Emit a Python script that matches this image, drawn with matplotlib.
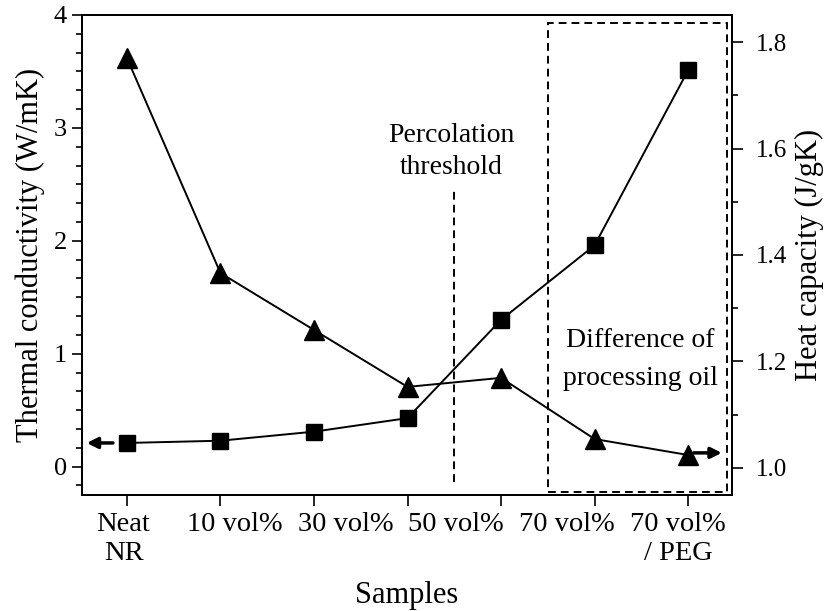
import matplotlib
matplotlib.use("Agg")
import matplotlib.pyplot as plt
import numpy as np
from matplotlib.ticker import MultipleLocator
from matplotlib.patches import Rectangle

plt.rcParams['font.family'] = ['Liberation Serif', 'DejaVu Serif']

# 7 measured samples, but the original figure prints only 6 category labels
sample_labels = ["Neat\nNR", "10 vol%", "30 vol%", "50 vol%", "70 vol%", "70 vol%\n/ PEG"]
thermal_conductivity = [0.21, 0.23, 0.31, 0.43, 1.30, 1.96, 3.51]
heat_capacity = [1.770, 1.366, 1.259, 1.152, 1.169, 1.054, 1.024]

x = np.arange(len(thermal_conductivity))

fig = plt.figure(figsize=(8.27, 6.11), dpi=100)
ax = fig.add_axes([0.0992, 0.190, 0.786, 0.7855])
ax2 = ax.twinx()

ax.plot(x, thermal_conductivity, '-', color='black', lw=1.4, marker='s',
        markersize=12, markerfacecolor='black', markeredgecolor='black', clip_on=False, zorder=3)
ax2.plot(x, heat_capacity, '-', color='black', lw=1.4, marker='^',
         markersize=15, markerfacecolor='black', markeredgecolor='black', clip_on=False, zorder=3)

ax.set_xlim(-0.48, 6.47)
ax.set_ylim(-0.25, 4.0)
ax2.set_ylim(0.949, 1.851)

ax.set_xticks(x)
ax.set_xticklabels([""] * len(x))
# category labels, spread evenly as in the original figure
label_pos = np.linspace(-0.037, 5.893, len(sample_labels))
for xp, lab in zip(label_pos, sample_labels):
    ax.text(xp, -0.036, lab, transform=ax.get_xaxis_transform(), ha='center', va='top',
            fontsize=20.5, linespacing=1.2, multialignment='center')

ax.yaxis.set_major_locator(MultipleLocator(1))
ax.yaxis.set_minor_locator(MultipleLocator(1/6))
ax2.yaxis.set_major_locator(MultipleLocator(0.2))
ax2.yaxis.set_minor_locator(MultipleLocator(0.1))
ax2.yaxis.set_major_formatter(plt.FuncFormatter(lambda v, p: f"{v:.1f}"))

ax.tick_params(axis='x', which='major', direction='out', length=8, width=1.2, pad=4, top=False)
ax.tick_params(axis='y', which='major', direction='out', length=7, width=1.2, labelsize=19, pad=4)
ax.tick_params(axis='y', which='minor', direction='out', length=4, width=1.2)
ax2.tick_params(axis='y', which='major', direction='out', length=8, width=1.2, labelsize=18, pad=9)
ax2.tick_params(axis='y', which='minor', direction='out', length=4, width=1.2)

for a in (ax, ax2):
    for s in a.spines.values():
        s.set_linewidth(1.4)

ax.set_ylabel("Thermal conductivity (W/mK)", fontsize=22, labelpad=6)
ax2.set_ylabel("Heat capacity (J/gK)", fontsize=22, labelpad=6)
ax.set_xlabel("Samples", fontsize=22, labelpad=50)

# percolation threshold line
ax.plot([3.5, 3.5], [-0.14, 2.46], color='black', lw=1.4, linestyle=(0, (4, 2.6)), zorder=2)
ax.text(3.47, 2.876, "Percolation", fontsize=20, ha='center', va='baseline')
ax.text(3.47, 2.593, "threshold", fontsize=20, ha='center', va='baseline')

# dashed box
rect = Rectangle((4.5, -0.22), 1.92, 4.15, fill=False, edgecolor='black', lw=1.4,
                 linestyle=(0, (4, 2.6)), zorder=2)
ax.add_patch(rect)
ax.text(5.49, 1.062, "Difference of", fontsize=20, ha='center', va='baseline')
ax.text(5.49, 0.726, "processing oil", fontsize=20, ha='center', va='baseline')

# arrows indicating axes
ax.annotate("", xy=(-0.43, 0.21), xytext=(-0.15, 0.21),
            arrowprops=dict(arrowstyle='-|>', color='black', lw=2.5, mutation_scale=16,
                            shrinkA=0, shrinkB=0))
ax2.annotate("", xy=(6.36, 1.028), xytext=(6.06, 1.028),
             arrowprops=dict(arrowstyle='-|>', color='black', lw=2.5, mutation_scale=16,
                             shrinkA=0, shrinkB=0))

fig.savefig("out.png", dpi=100)
